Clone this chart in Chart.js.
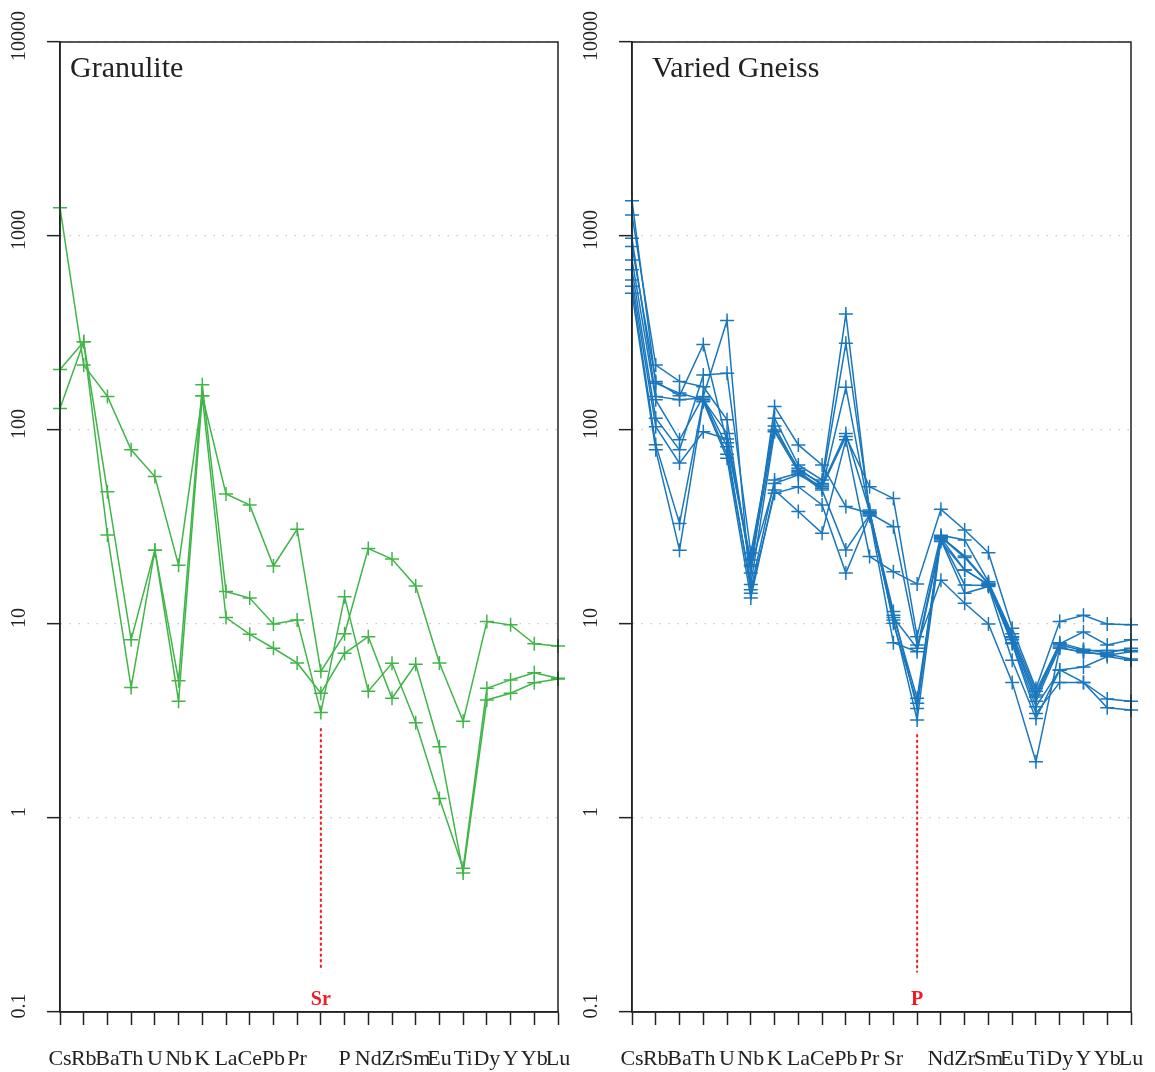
<!DOCTYPE html>
<html><head><meta charset="utf-8">
<script src="https://cdn.jsdelivr.net/npm/chart.js@4.4.1/dist/chart.umd.min.js"></script>
<style>
html,body{margin:0;padding:0;background:#fff;width:1155px;height:1072px;overflow:hidden;}
canvas{position:absolute;top:0;}
#c1{left:0px}
#c2{left:578px}
</style></head><body>
<canvas id="c1" width="578" height="1072"></canvas>
<canvas id="c2" width="577" height="1072"></canvas>
<script>
// ---------- data ----------
const elements = ['Cs','Rb','Ba','Th','U','Nb','K','La','Ce','Pb','Pr','Sr','P','Nd','Zr','Sm','Eu','Ti','Dy','Y','Yb','Lu'];
const yTickValues = [0.1, 1, 10, 100, 1000, 10000];
const yTickLabels = ['0.1', '1', '10', '100', '1000', '10000'];

// Granulite (left panel)
const granulite1 = [1400, 216, 149, 79, 57.5, 20.1, 150, 46.8, 41, 19.9, 30.8, 5.7, 8.9, 24.5, 21.6, 15.7, 6.3, 3.15, 10.3, 9.9, 7.9, 7.7];
const granulite2 = [205, 285, 48, 8.3, 24, 5.1, 171, 14.7, 13.6, 10.0, 10.5, 3.5, 13.8, 4.5, 6.27, 3.1, 1.26, 0.55, 4.66, 5.15, 5.6, 5.25];
const granulite3 = [129, 285, 28.8, 4.7, 24, 4.0, 150, 10.8, 8.85, 7.5, 6.3, 4.4, 7.06, 8.6, 4.14, 6.2, 2.33, 0.52, 4.06, 4.4, 4.98, 5.2];

// Varied Gneiss (right panel)
const gneiss1 = [1521, 174, 155, 143, 96, 20.2, 100, 63.5, 52, 96, 38, 11.6, 3.67, 28.2, 22.4, 16.2, 8.6, 4.2, 7.8, 7.3, 7.3, 7.3];
const gneiss2 = [1284, 216, 178, 167, 113, 18.3, 132, 83.8, 66, 40.3, 37.2, 31.7, 7.8, 16.8, 12.8, 10, 5.0, 1.95, 7.5, 7.2, 6.9, 7.2];
const gneiss3 = [973, 149, 143, 146, 82, 15.0, 55.3, 60, 49, 24.1, 36.5, 10.5, 3.2, 27.1, 14.4, 15.6, 6.5, 3.26, 5.8, 5.0, 3.7, 3.6];
const gneiss4 = [882, 178, 150, 276, 86, 21.4, 115, 66, 55.3, 396, 37.5, 11.1, 4.14, 28.0, 22, 16.1, 8.5, 4.3, 8.0, 7.4, 7.1, 7.5];
const gneiss5 = [753, 143, 89, 149, 367, 14.4, 47.2, 51, 41.1, 18.3, 36, 8.0, 7.2, 26.6, 19, 15.9, 7.9, 3.46, 5.0, 5.0, 4.1, 4.0];
const gneiss6 = [669, 115, 79, 192, 196, 23.2, 105, 62, 53, 280, 38.7, 10.1, 3.9, 27.8, 19.0, 16, 8.3, 4.0, 7.6, 7.1, 7.0, 6.6];
const gneiss7 = [594, 104, 67.5, 98, 90, 19.8, 53, 58.7, 51, 92.5, 51, 44.4, 8.6, 28.7, 27.1, 16.5, 8.9, 4.5, 7.9, 9.1, 7.8, 8.3];
const gneiss8 = [550, 84, 33, 143, 75, 16, 98, 61, 50.1, 166, 37, 10.8, 7.5, 27.5, 15.9, 15.8, 8.0, 3.75, 5.8, 6.0, 6.8, 6.5];
const gneiss9 = [507, 79, 24, 140, 71.5, 13.6, 49, 38, 29.4, 89, 22.3, 18.6, 16.1, 39, 30.5, 23.3, 9.5, 4.65, 10.3, 11.1, 10, 9.9];

// marker (red dashed line + label): index, top value, bottom value, label value
const granMarker = [11, 2.9, 0.164, 0.116];
const gneissMarker = [12, 2.7, 0.16, 0.116];

// ---------- drawing ----------
const FONT = "'Liberation Serif', 'Times New Roman', serif";
const GREEN = '#41b549';
const BLUE = '#1a77bd';
const RED = '#ee1c25';
const INK = '#222222';

const deco = {
  id: 'deco',
  afterDraw(chart, args, o) {
    const {ctx, chartArea: a, scales: {x, y}} = chart;
    ctx.save();
    ctx.strokeStyle = INK; ctx.lineWidth = 1.5;
    ctx.strokeRect(a.left, a.top, a.right - a.left, a.bottom - a.top);
    ctx.fillStyle = INK;
    ctx.font = '20px ' + FONT;
    ctx.textAlign = 'center'; ctx.textBaseline = 'middle';
    yTickValues.forEach((v, i) => {
      const py = y.getPixelForValue(v) - 6;
      ctx.save(); ctx.translate(a.left - 40, py); ctx.rotate(-Math.PI / 2);
      ctx.fillText(yTickLabels[i], 0, 0); ctx.restore();
    });
    ctx.font = '30px ' + FONT;
    ctx.textAlign = 'left'; ctx.textBaseline = 'alphabetic';
    ctx.fillText(o.title, a.left + o.titleDx, a.top + 35);
    const m = o.marker;
    const px = x.getPixelForValue(m[0]);
    ctx.strokeStyle = RED; ctx.lineWidth = 2; ctx.setLineDash([3, 2.5]);
    ctx.beginPath(); ctx.moveTo(px, y.getPixelForValue(m[1])); ctx.lineTo(px, y.getPixelForValue(m[2])); ctx.stroke();
    ctx.setLineDash([]);
    ctx.fillStyle = RED; ctx.font = 'bold 20px ' + FONT;
    ctx.textAlign = 'center'; ctx.textBaseline = 'middle';
    ctx.fillText(elements[m[0]], px, y.getPixelForValue(m[3]));
    ctx.restore();
  }
};

function ds(values, color) {
  return {data: values, borderColor: color, backgroundColor: color, borderWidth: 1.5,
    pointStyle: 'cross', pointRadius: 7, pointHoverRadius: 7, pointBorderWidth: 1.5,
    fill: false, tension: 0};
}

function makeChart(id, series, color, title, titleDx, marker, yWidth, padRight) {
  return new Chart(document.getElementById(id), {
    type: 'line',
    data: {labels: elements, datasets: series.map(s => ds(s, color))},
    plugins: [deco],
    options: {
      responsive: false, animation: false, devicePixelRatio: 1, events: [],
      layout: {padding: {left: 0, right: padRight, top: 42, bottom: 0}},
      plugins: {legend: {display: false}, tooltip: {enabled: false},
        deco: {title: title, titleDx: titleDx, marker: marker}},
      scales: {
        x: {type: 'category', offset: false,
          grid: {display: true, drawOnChartArea: false, drawTicks: true, tickLength: 13, tickColor: INK, tickWidth: 1.5},
          border: {display: true, color: INK, width: 1.5},
          ticks: {autoSkip: false, maxRotation: 0, minRotation: 0, color: INK, padding: 21,
            font: {family: FONT, size: 22},
            callback: (v, i) => i === marker[0] ? '' : elements[i]},
          afterFit: s => { s.height = 60; s.paddingLeft = 0; s.paddingRight = 0; }
        },
        y: {type: 'logarithmic', min: 0.1, max: 10000,
          afterBuildTicks: s => { s.ticks = yTickValues.map(v => ({value: v})); },
          grid: {color: '#c8c8c8', lineWidth: 1.3, drawTicks: true, tickLength: 13, tickColor: INK, tickWidth: 1.5},
          border: {display: true, color: INK, width: 1.5, dash: [1.5, 7.5]},
          ticks: {display: false},
          afterFit: s => { s.width = yWidth; s.paddingTop = 0; s.paddingBottom = 0; }
        }
      }
    }
  });
}

makeChart('c1', [granulite1, granulite2, granulite3], GREEN, 'Granulite', 10, granMarker, 60, 20);
makeChart('c2', [gneiss1, gneiss2, gneiss3, gneiss4, gneiss5, gneiss6, gneiss7, gneiss8, gneiss9], BLUE, 'Varied Gneiss', 20, gneissMarker, 54, 24);
</script>
</body></html>
